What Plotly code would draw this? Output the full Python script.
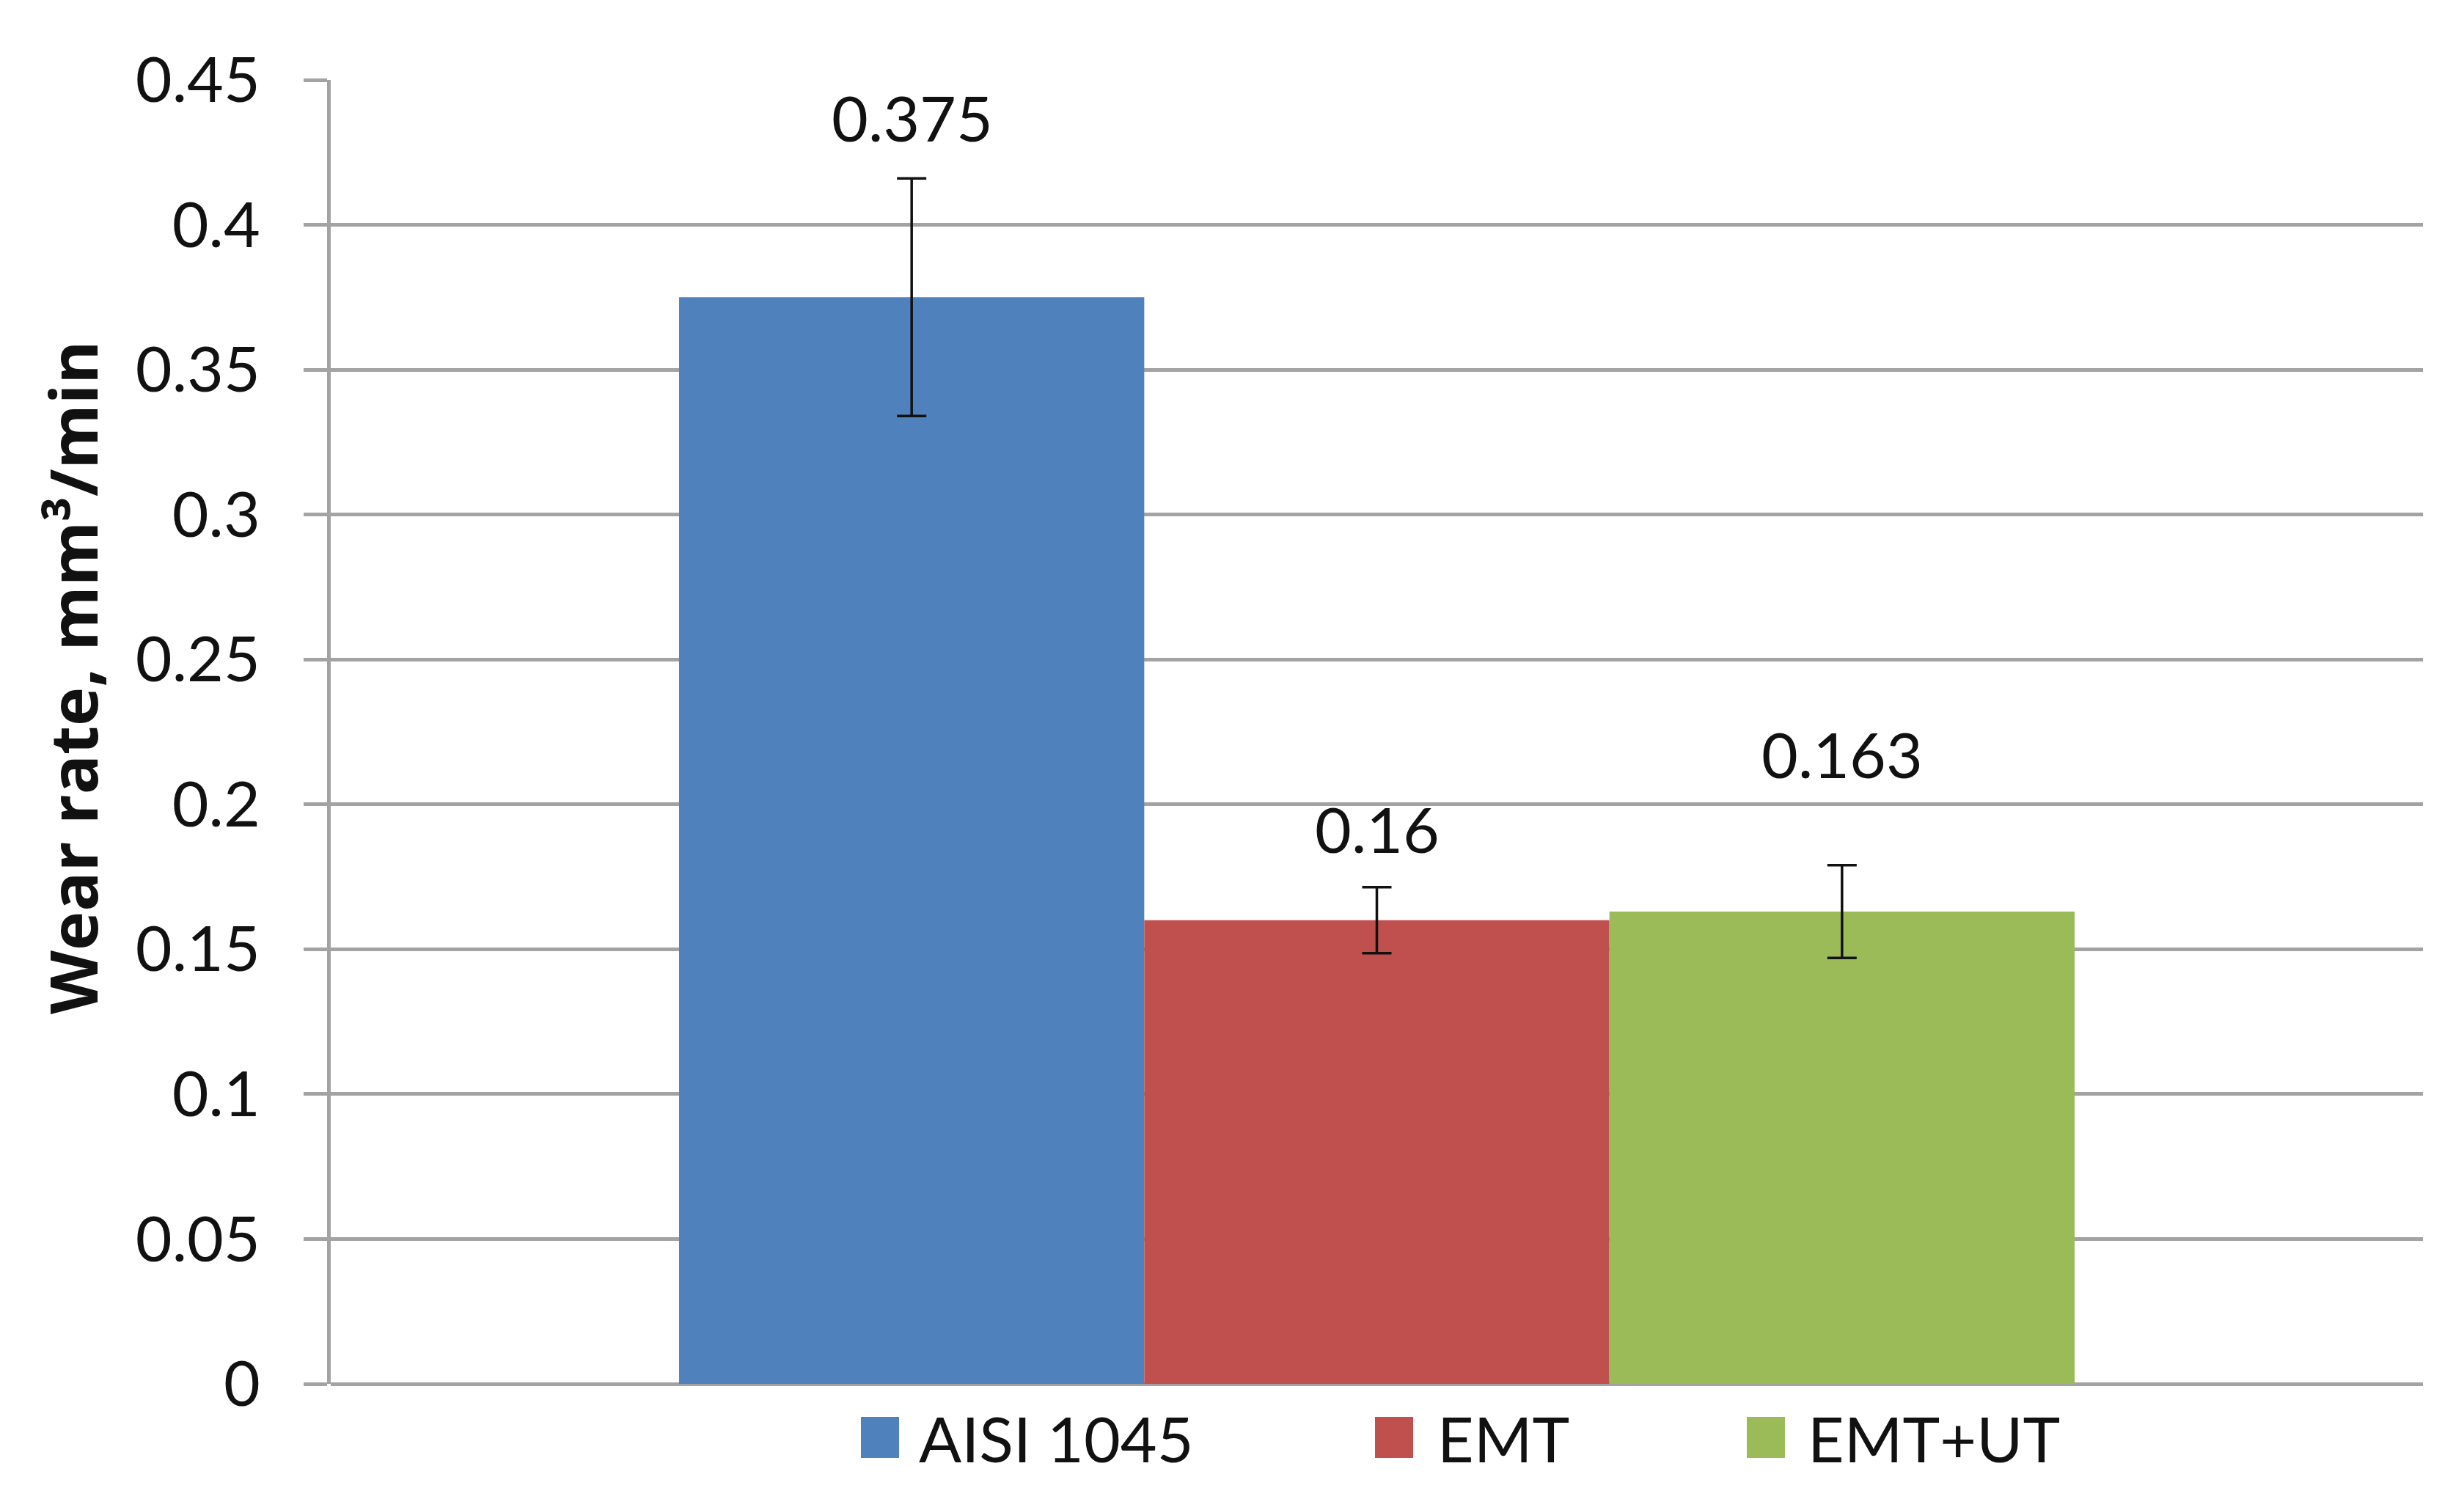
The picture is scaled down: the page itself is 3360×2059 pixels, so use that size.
import plotly.graph_objects as go

series = ["AISI 1045", "EMT", "EMT+UT"]
values = [0.375, 0.160, 0.163]
errors = [0.041, 0.0114, 0.016]
labels = ["0.375", "0.16", "0.163"]
colors = ["#4F81BD", "#C0504D", "#9BBB59"]
tick_vals = [0, 0.05, 0.1, 0.15, 0.2, 0.25, 0.3, 0.35, 0.4, 0.45]
tick_text = ["0", "0.05", "0.1", "0.15", "0.2", "0.25", "0.3", "0.35", "0.4", "0.45"]

# layout geometry (pixels)
W, H = 3360, 2059
L, R, T, B = 443, 64, 101, 180
PW, PH = W - L - R, H - T - B
label_shift = [84, 80, 152]
legend_sw_x = [1166, 1867, 2374]
legend_tx_x = [1243, 1950, 2455]
legend_y = 1952

def px2x(px):
    return (px - L) / PW

def px2y(py):
    return (H - B - py) / PH

FONT = "Lato"
fig = go.Figure()
for s, v, e, c in zip(series, values, errors, colors):
    fig.add_trace(go.Bar(
        x=[""], y=[v], name=s, marker=dict(color=c, line=dict(width=0)),
        error_y=dict(type="data", array=[e], visible=True, color="#111111",
                     thickness=3.5, width=20),
        showlegend=False,
    ))

for i, (v, e, t) in enumerate(zip(values, errors, labels)):
    fig.add_annotation(x=(i - 1) * (2 / 9), xref="x", y=v + e, yref="y",
                       text=t, showarrow=False, yshift=label_shift[i],
                       yanchor="middle",
                       font=dict(family=FONT, size=86, color="#111111"))

# legend
for s, c, sx, tx in zip(series, colors, legend_sw_x, legend_tx_x):
    fig.add_shape(type="rect", xref="paper", yref="paper",
                  x0=px2x(sx), x1=px2x(sx + 52),
                  y0=px2y(legend_y + 28), y1=px2y(legend_y - 28),
                  fillcolor=c, line=dict(width=0))
    fig.add_annotation(xref="paper", yref="paper", x=px2x(tx), y=px2y(legend_y),
                       xanchor="left", yanchor="middle", showarrow=False,
                       text=s, font=dict(family=FONT, size=86, color="#111111"))

# y-axis title
fig.add_annotation(xref="paper", yref="paper", x=px2x(90), y=px2y(916),
                   xanchor="center", yanchor="middle", showarrow=False,
                   textangle=-90, text="<b>Wear rate, mm³/min</b>",
                   font=dict(family="Open Sans", size=90, color="#111111"))

fig.update_layout(
    width=W, height=H,
    margin=dict(l=L, r=R, t=T, b=B),
    paper_bgcolor="white", plot_bgcolor="white",
    barmode="group", bargap=0.333, bargroupgap=0,
    font=dict(family=FONT, size=86, color="#111111"),
    showlegend=False,
    xaxis=dict(type="category", range=[-0.5, 0.5], showticklabels=False,
               showgrid=False, showline=False, zeroline=False),
    yaxis=dict(range=[0, 0.45], tickvals=tick_vals, ticktext=tick_text,
               showgrid=True, gridcolor="#A3A3A3", gridwidth=5,
               showline=True, linecolor="#A3A3A3", linewidth=5,
               zeroline=True, zerolinecolor="#A3A3A3", zerolinewidth=5,
               ticks="outside", ticklen=32, tickcolor="#A3A3A3", tickwidth=5,
               ticklabelstandoff=42,
               tickfont=dict(family=FONT, size=86, color="#111111")),
)

fig.write_html("out.html")
